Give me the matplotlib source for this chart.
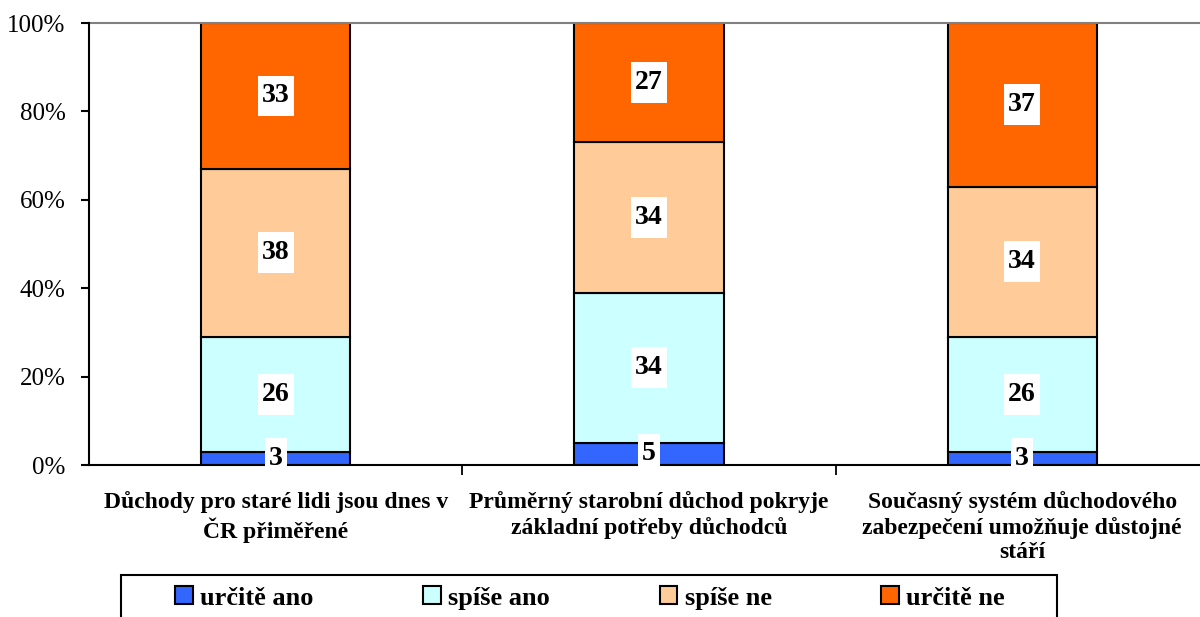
import numpy as np
import matplotlib.pyplot as plt
from matplotlib.patches import Patch, Rectangle

categories = [
    'Důchody pro staré lidi jsou dnes v\nČR přiměřené',
    'Průměrný starobní důchod pokryje\nzákladní potřeby důchodců',
    'Současný systém důchodového\nzabezpečení umožňuje důstojné\nstáří',
]
series_names = ['určitě ano', 'spíše ano', 'spíše ne', 'určitě ne']
urcite_ano = [3, 5, 3]
spise_ano = [26, 34, 26]
spise_ne = [38, 34, 34]
urcite_ne = [33, 27, 37]
colors = ['#3366FF', '#CCFFFF', '#FFCC99', '#FF6600']
yticks = [0, 20, 40, 60, 80, 100]
ytick_labels = ['0%', '20%', '40%', '60%', '80%', '100%']

plt.rcParams['font.family'] = ['Liberation Serif', 'DejaVu Serif']

fig = plt.figure(figsize=(12, 6.17), dpi=100)
ax = fig.add_axes([89 / 1200, 1 - 465 / 617, 3 * 373.3 / 1200, 442 / 617])

x = np.arange(len(categories))
bottom = np.zeros(len(categories))
for vals, c in zip([urcite_ano, spise_ano, spise_ne, urcite_ne], colors):
    vals = np.array(vals, dtype=float)
    ax.bar(x, vals, 0.4, bottom=bottom, color=c, edgecolor='black', linewidth=1.5, zorder=2)
    for xi, b, v in zip(x, bottom, vals):
        ax.text(xi, b + v / 2, f'{int(v)}', ha='center', va='center', fontsize=20,
                fontweight='bold', zorder=4,
                bbox=dict(boxstyle='square,pad=0.15', mutation_aspect=1.9,
                          facecolor='white', edgecolor='none'))
    bottom += vals

ax.set_xlim(-0.5, 2.5)
ax.set_ylim(0, 100)
ax.set_yticks(yticks)
ax.set_yticklabels(ytick_labels, fontsize=18)
ax.tick_params(axis='y', direction='out', length=6, width=1.5, pad=11)

ax.set_xticks(x)
ax.set_xticklabels(categories, fontsize=17, fontweight='bold', linespacing=1.2)
ax.set_xticks([0.5, 1.5], minor=True)
ax.tick_params(axis='x', which='major', length=0, pad=19)
ax.tick_params(axis='x', which='minor', direction='out', length=7, width=1.3)

for s in ['left', 'bottom']:
    ax.spines[s].set_linewidth(1.5)
    ax.spines[s].set_zorder(3)
ax.spines['right'].set_visible(False)
ax.spines['top'].set_color('#808080')
ax.spines['top'].set_linewidth(1.5)

# legend frame (runs past the bottom edge like the original)
fig.patches.append(Rectangle((121 / 1200, -0.05), (1057 - 121) / 1200, 0.05 + 1 - 575 / 617,
                             transform=fig.transFigure, fill=False, edgecolor='black',
                             linewidth=1.5))
handles = [Patch(facecolor=c, edgecolor='black', linewidth=1.5) for c in colors]
fig.legend(handles, series_names, loc='center', bbox_to_anchor=(590 / 1200, 1 - 598 / 617),
           ncol=4, frameon=False, prop={'size': 19, 'weight': 'bold'},
           handlelength=0.68, handleheight=0.68, handletextpad=0.27, columnspacing=4.15)

fig.savefig('out.png', dpi=100)
